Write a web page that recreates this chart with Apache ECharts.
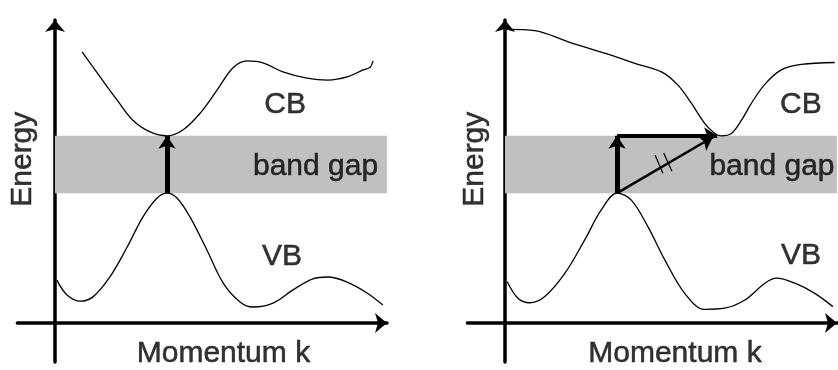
<!DOCTYPE html>
<html>
<head>
<meta charset="utf-8">
<script src="https://cdn.jsdelivr.net/npm/echarts@6/dist/echarts.min.js"></script>
<style>
html,body{margin:0;padding:0;background:#fff;}
#main{width:838px;height:370px;}
</style>
</head>
<body>
<div id="main"></div>
<script>
// energy band diagrams: direct (left) and indirect (right) band gap
// k = momentum, E = energy, arbitrary units
var gapTop = 4.8;
var gapBottom = 3.33;
var bandEndK = 9.0;

var directCB = [[0.72,6.95],[1.2,6.31],[1.65,5.72],[2.07,5.2],[2.53,4.9],[2.98,4.8],[3.4,4.95],[3.86,5.38],[4.31,5.97],[4.73,6.54],[5.11,6.72],[5.53,6.67],[6.06,6.44],[6.7,6.28],[7.26,6.23],[7.77,6.31],[8.19,6.49],[8.38,6.56],[8.46,6.72]];
var directVB = [[0.05,1.1],[0.32,0.72],[0.67,0.56],[1.01,0.67],[1.46,1.18],[1.92,1.95],[2.34,2.72],[2.71,3.2],[2.98,3.33],[3.25,3.2],[3.59,2.72],[4.04,1.87],[4.47,1.03],[4.92,0.54],[5.27,0.41],[5.8,0.51],[6.33,0.85],[6.86,1.13],[7.26,1.18],[7.77,1.05],[8.3,0.77],[8.72,0.46]];
var indirectCB = [[0.06,7.53],[0.79,7.5],[1.68,7.21],[2.65,6.92],[3.45,6.66],[4.16,6.44],[4.6,6.1],[4.96,5.63],[5.31,5.12],[5.58,4.86],[5.75,4.8],[6.02,4.86],[6.29,5.2],[6.55,5.63],[6.91,6.12],[7.35,6.49],[7.88,6.63],[8.77,6.68]];
var indirectVB = [[0.06,1.06],[0.35,0.63],[0.66,0.52],[1.06,0.68],[1.59,1.27],[2.12,2.13],[2.56,2.9],[2.98,3.33],[3.36,3.15],[3.8,2.47],[4.25,1.62],[4.78,0.76],[5.31,0.35],[5.84,0.38],[6.38,0.59],[6.91,1.02],[7.22,1.15],[7.71,1.02],[8.24,0.76],[8.72,0.42]];

// [text, k, E, rotate]
var leftLabels = [['CB',6.12,5.59,0],['band gap',6.93,4.0,0],['VB',6.04,1.69,0],['Energy',-0.85,4.2,90],['Momentum k',4.48,-0.79,0]];
var rightLabels = [['CB',7.87,5.59,0],['band gap',7.1,4.0,0],['VB',7.87,1.72,0],['Energy',-0.8,4.2,90],['Momentum k',4.52,-0.79,0]];

// transitions: [from, to, width]
var directArrows = [[[2.98,3.33],[2.98,4.8],5]];
var indirectArrows = [[[2.98,3.33],[2.98,4.8],5],[[2.98,4.8],[5.64,4.8],4],[[2.98,3.33],[5.53,4.77],2.5]];
var hashMarks = [[[3.99,4.31],[4.2,3.84]],[[4.22,4.36],[4.44,3.89]]];

var font = "'Liberation Sans', Arial, sans-serif";

function makeAxes(i)
{
	var line = {onZero: true, symbol: ['none','arrow'], symbolSize: [15,12], lineStyle: {color: '#000', width: 3.5}};
	var x = {
		type: 'value', gridIndex: i, min: -1, max: 8.83, axisLine: line,
		axisTick: {show: false}, axisLabel: {show: false}, splitLine: {show: false}
	};
	var y = {
		type: 'value', gridIndex: i, min: -1, max: 7.77, axisLine: line,
		axisTick: {show: false}, axisLabel: {show: false}, splitLine: {show: false}
	};
	return [x, y];
}

function curve(i, data)
{
	return {
		type: 'line', xAxisIndex: i, yAxisIndex: i, data: data,
		smooth: 0.35, symbol: 'none', z: 3,
		lineStyle: {color: '#000', width: 1.3}
	};
}

function gapBand(i)
{
	return {
		type: 'line', xAxisIndex: i, yAxisIndex: i, data: [], z: 1,
		markArea: {
			silent: true,
			itemStyle: {color: '#c0c0c0'},
			data: [[{coord: [0, gapTop]}, {coord: [bandEndK, gapBottom]}]]
		}
	};
}

function labels(i, list)
{
	return {
		type: 'scatter', xAxisIndex: i, yAxisIndex: i, symbolSize: 0, z: 5,
		itemStyle: {color: '#000'},
		data: list.map(function(d) {
			return {name: d[0], value: [d[1], d[2]], label: {rotate: d[3]}};
		}),
		label: {
			show: true, position: [0, 0], align: 'center', verticalAlign: 'middle',
			formatter: '{b}', color: '#000', textBorderColor: '#000', textBorderWidth: 0.5,
			fontFamily: font, fontSize: 30
		}
	};
}

function arrows(i, list)
{
	return {
		type: 'lines', coordinateSystem: 'cartesian2d', xAxisIndex: i, yAxisIndex: i, z: 6,
		symbol: ['none','arrow'], symbolSize: [12,13],
		data: list.map(function(a) {
			return {coords: [a[0], a[1]], lineStyle: {color: '#000', width: a[2], opacity: 1}};
		})
	};
}

var axes0 = makeAxes(0);
var axes1 = makeAxes(1);

var option = {
	backgroundColor: '#fff',
	animation: false,
	grid: [
		{left: 17.4, top: 20, width: 369.6, height: 342, containLabel: false, outerBoundsMode: 'none'},
		{left: 467.4, top: 20, width: 369.6, height: 342, containLabel: false, outerBoundsMode: 'none'}
	],
	xAxis: [axes0[0], axes1[0]],
	yAxis: [axes0[1], axes1[1]],
	series: [
		gapBand(0),
		gapBand(1),
		curve(0, directCB),
		curve(0, directVB),
		curve(1, indirectCB),
		curve(1, indirectVB),
		arrows(0, directArrows),
		arrows(1, indirectArrows),
		{
			type: 'lines', coordinateSystem: 'cartesian2d', xAxisIndex: 1, yAxisIndex: 1, z: 6,
			symbol: 'none',
			data: hashMarks.map(function(h) { return {coords: h}; }),
			lineStyle: {color: '#000', width: 1.2, opacity: 1}
		},
		labels(0, leftLabels),
		labels(1, rightLabels)
	]
};

var myChart = echarts.init(document.getElementById('main'));
myChart.setOption(option);
</script>
</body>
</html>
